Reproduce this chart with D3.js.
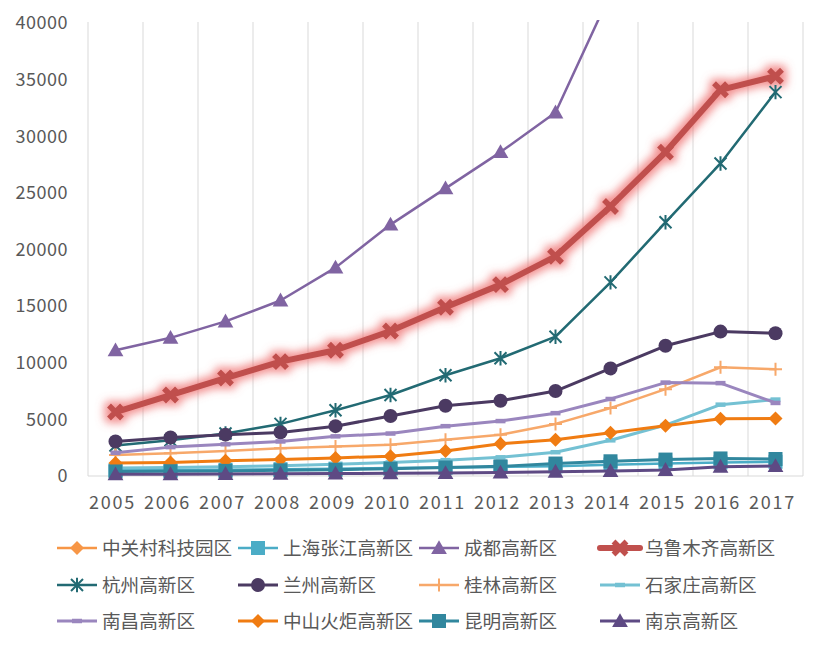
<!DOCTYPE html>
<html><head><meta charset="utf-8">
<script src="https://cdn.jsdelivr.net/npm/d3@7"></script>
<style>
body{margin:0;background:#fff;}
svg text{font-family:"Noto Sans CJK SC","Microsoft YaHei",sans-serif;fill:#595959;}
</style></head>
<body>
<svg id="chart" width="827" height="651"></svg>
<script>
const years = [2005,2006,2007,2008,2009,2010,2011,2012,2013,2014,2015,2016,2017];
const yTicks = [0,5000,10000,15000,20000,25000,30000,35000,40000];
const seriesNames = ["中关村科技园区","上海张江高新区","成都高新区","乌鲁木齐高新区","杭州高新区","兰州高新区","桂林高新区","石家庄高新区","南昌高新区","中山火炬高新区","昆明高新区","南京高新区"];
const zhongguancun = [85000,98000,112000,125000,140000,158000,175000,190000,205000,222000,240000,262000,280000];
const shanghaiZhangjiang = [500,520,560,600,650,700,750,800,850,1000,1100,1200,1250];
const chengdu = [11100,12200,13650,15500,18400,22200,25400,28600,32100,42600,49000,55000,60000];
const urumqi = [5650,7150,8650,10100,11100,12800,14900,16900,19400,23800,28600,34100,35300];
const hangzhou = [2700,3150,3750,4600,5800,7150,8900,10400,12300,17100,22400,27600,33900];
const lanzhou = [3050,3400,3650,3850,4400,5300,6200,6650,7500,9500,11500,12750,12600];
const guilin = [1850,2000,2200,2450,2600,2750,3200,3650,4600,6000,7670,9600,9430];
const shijiazhuang = [700,750,820,900,1030,1200,1400,1650,2100,3150,4500,6300,6750];
const nanchang = [2050,2550,2800,3050,3500,3750,4400,4850,5550,6800,8250,8200,6450];
const zhongshan = [1150,1200,1350,1450,1600,1750,2200,2850,3200,3820,4430,5050,5080];
const kunming = [400,420,450,500,550,650,750,850,1100,1300,1450,1550,1500];
const nanjing = [150,160,180,200,220,240,260,300,380,440,530,820,880];

const values = [zhongguancun,shanghaiZhangjiang,chengdu,urumqi,hangzhou,lanzhou,guilin,shijiazhuang,nanchang,zhongshan,kunming,nanjing];
const colors = ["#F79646","#4BACC6","#8064A2","#C0504D","#226A73","#4B3A62","#F7A86A","#74C1D3","#9A86BE","#F07C12","#31879E","#5E4A84"];
const markers = ["diamond","square","triangle","x","asterisk","circle","plus","dash","dash","diamond","square","triangle"];
const widths = [2.5,2.5,2.5,6,2.5,3,2.5,3,3,3,3,3];

const svg = d3.select("#chart");
const L = 88, R = 803, T = 23, B = 476;
const x = d3.scaleBand().domain(years).range([L, R]).paddingInner(0).paddingOuter(0);
const y = d3.scaleLinear().domain([0, 40000]).range([B, T]);
const cx = d => x(d) + x.bandwidth()/2;

const defs = svg.append("defs");
defs.append("clipPath").attr("id","plotclip").append("rect")
  .attr("x", L - 20).attr("y", T - 3).attr("width", R - L + 40).attr("height", B - T + 30);
const glow = defs.append("filter").attr("id","glow").attr("x","-20%").attr("y","-20%").attr("width","140%").attr("height","140%");
glow.append("feMorphology").attr("in","SourceAlpha").attr("operator","dilate").attr("radius",3).attr("result","d");
glow.append("feGaussianBlur").attr("in","d").attr("stdDeviation",4).attr("result","b");
glow.append("feFlood").attr("flood-color","#EE6B6B").attr("flood-opacity",0.75).attr("result","f");
glow.append("feComposite").attr("in","f").attr("in2","b").attr("operator","in").attr("result","g");
const mg = glow.append("feMerge");
mg.append("feMergeNode").attr("in","g");
mg.append("feMergeNode").attr("in","SourceGraphic");

// vertical gridlines at band edges
const edges = years.map(d => x(d)).concat([R]);
svg.append("g").selectAll("line").data(edges).join("line")
  .attr("x1", d => d).attr("x2", d => d).attr("y1", T - 1).attr("y2", B)
  .attr("stroke", "#D9D9D9").attr("stroke-width", 1);
svg.append("line").attr("x1", L).attr("x2", R).attr("y1", B).attr("y2", B)
  .attr("stroke", "#D9D9D9").attr("stroke-width", 1);

// y axis
const yAxis = svg.append("g").attr("transform", `translate(${L},0)`)
  .call(d3.axisLeft(y).tickValues(yTicks).tickSize(0).tickPadding(20).tickFormat(d3.format("d")));
yAxis.select(".domain").remove();
yAxis.selectAll("text").attr("font-size", 18).attr("letter-spacing", "0.5px")
  .style("font-family", '"Noto Sans CJK SC",sans-serif').attr("fill", "#595959");

// x axis
const xAxis = svg.append("g").attr("transform", `translate(0,${B})`)
  .call(d3.axisBottom(x).tickSize(0).tickPadding(0));
xAxis.select(".domain").remove();
xAxis.selectAll("text").attr("font-size", 18).attr("letter-spacing", "1.8px")
  .attr("y", 33).attr("dy", 0).attr("dx", -3)
  .style("font-family", '"Noto Sans CJK SC",sans-serif').attr("fill", "#595959");

function markerPath(type, s) {
  switch (type) {
    case "diamond": return `M0,${-s}L${s},0L0,${s}L${-s},0Z`;
    case "square": return `M${-s},${-s}H${s}V${s}H${-s}Z`;
    case "triangle": return `M0,${-s*1.05}L${s*1.05},${s*0.8}L${-s*1.05},${s*0.8}Z`;
    case "x": return `M${-s},${-s}L${s},${s}M${-s},${s}L${s},${-s}`;
    case "asterisk": return `M${-s},${-s}L${s},${s}M${-s},${s}L${s},${-s}M0,${-s*1.2}V${s*1.2}`;
    case "plus": return `M0,${-s}V${s}M${-s},0H${s}`;
    case "dash": return `M${-s},0H${s}`;
  }
}
const mSize = {diamond:7, square:7, triangle:7.5, x:6.5, asterisk:6, circle:7, plus:6.5, dash:5};
function drawMarker(sel, type, color) {
  if (type === "circle") {
    sel.append("circle").attr("r", mSize.circle).attr("fill", color);
  } else if (["diamond","square","triangle"].includes(type)) {
    sel.append("path").attr("d", markerPath(type, mSize[type])).attr("fill", color);
  } else {
    const sw = type === "x" ? 5.5 : (type === "dash" ? 4.5 : 2);
    sel.append("path").attr("d", markerPath(type, mSize[type])).attr("fill", "none")
      .attr("stroke", color).attr("stroke-width", sw);
  }
}

const plot = svg.append("g").attr("clip-path", "url(#plotclip)");
const line = d3.line().x((d, i) => cx(years[i])).y(d => y(d));
values.forEach((vals, si) => {
  const g = plot.append("g");
  if (si === 3) g.attr("filter", "url(#glow)");
  g.append("path").datum(vals).attr("d", line).attr("fill", "none")
    .attr("stroke", colors[si]).attr("stroke-width", widths[si])
    .attr("stroke-linejoin", "round").attr("stroke-linecap", "round");
  vals.forEach((v, i) => {
    const m = g.append("g").attr("transform", `translate(${cx(years[i])},${y(v)})`);
    drawMarker(m, markers[si], colors[si]);
  });
});

// legend
const colX = [57, 238, 419, 600];
const rowY = [548, 585, 621];
seriesNames.forEach((name, si) => {
  const gx = colX[si % 4], gy = rowY[Math.floor(si / 4)];
  const g = svg.append("g").attr("transform", `translate(${gx},${gy})`);
  g.append("line").attr("x1", 0).attr("x2", 40).attr("y1", 0).attr("y2", 0)
    .attr("stroke", colors[si]).attr("stroke-width", widths[si]).attr("stroke-linecap", si === 3 ? "round" : "butt");
  const m = g.append("g").attr("transform", "translate(20,0)");
  drawMarker(m, markers[si], colors[si]);
  g.append("text").attr("x", 45).attr("y", 0).attr("dy", "0.35em")
    .attr("font-size", 18.6).attr("fill", "#595959").text(name);
});
</script>
</body></html>
